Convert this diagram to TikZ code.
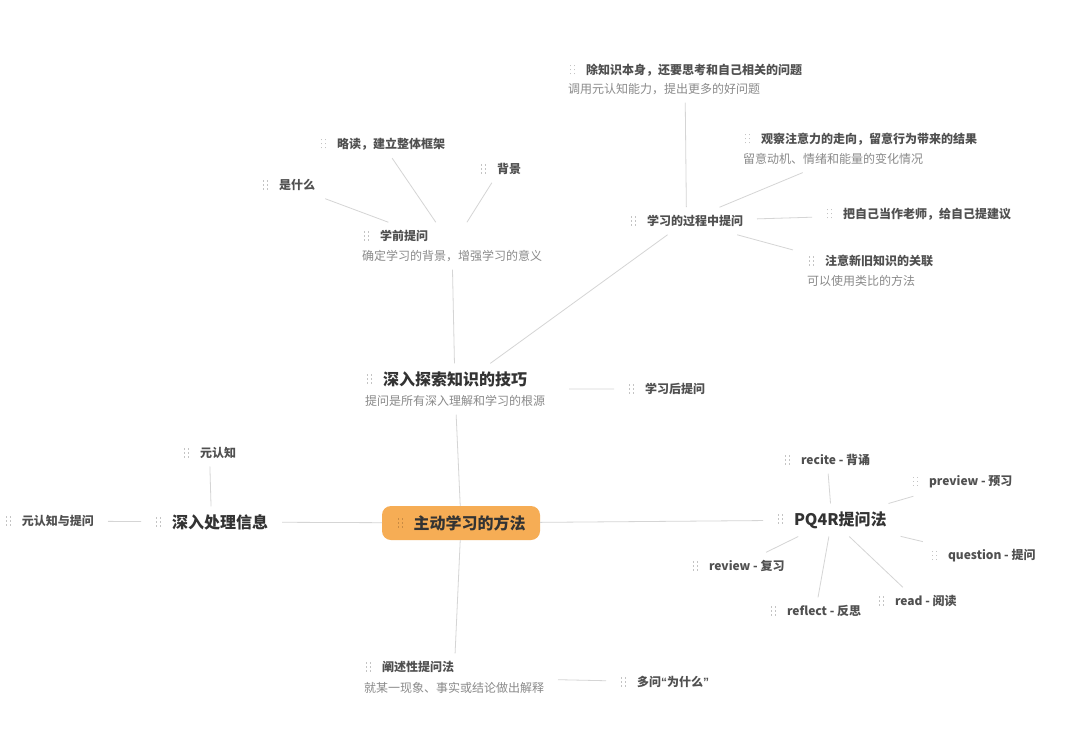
\documentclass[tikz,border=0pt]{standalone}
\usepackage{fontspec}
\setmainfont{Noto Sans CJK SC}
\newfontfamily\quotefont{Liberation Sans}
\usetikzlibrary{fit}
\definecolor{cone}{HTML}{333333}
\definecolor{ctwo}{HTML}{505050}
\definecolor{csub}{HTML}{8A8A8A}
\definecolor{clin}{HTML}{D5D5D5}
\definecolor{cgrip}{HTML}{C4C4C4}
\definecolor{cgripdark}{HTML}{C98B43}
\definecolor{corange}{HTML}{F6AD55}
\newcommand\gripcol{cgrip}
\newcommand\gdot{\rule{1.3pt}{1.3pt}}
\newcommand\grow{\hbox{\gdot\kern2.7pt\gdot}}
\newcommand\grip{\makebox[17pt][l]{\kern1pt{\color{\gripcol}\raisebox{\dimexpr0.38em-4.65pt\relax}{\vbox{\offinterlineskip\grow\kern2.7pt\grow\kern2.7pt\grow}}}}}
\newcommand\myopenq{{\quotefont “}}
\newcommand\mycloseq{{\quotefont ”}}
\tikzset{
  tone/.style={anchor=west, inner sep=0pt, outer sep=0pt, text=cone, font=\fontsize{16}{18}\selectfont\bfseries},
  ttwo/.style={anchor=west, inner sep=0pt, outer sep=0pt, text=ctwo, font=\fontsize{12}{14}\selectfont\bfseries},
  subt/.style={anchor=west, inner sep=0pt, outer sep=0pt, text=csub, font=\fontsize{12}{14}\selectfont},
  grp/.style={inner sep=0pt, outer xsep=14pt, outer ysep=8pt},
  rootbox/.style={fill=corange, rounded corners=9pt, minimum width=158pt, minimum height=34pt, inner sep=0pt, outer sep=0pt, text=cone, font=\fontsize{16}{18}\selectfont\bfseries},
  conn/.style={draw=clin, line width=0.8pt}
}
\begin{document}
\begin{tikzpicture}[x=1pt,y=-1pt]
\useasboundingbox[fill=white] (0,0) rectangle (1080,734);
% root
\node[rootbox] (root) at (461,523) {\renewcommand\gripcol{cgripdark}\grip 主动学习的方法};
% level 1
\node[tone] (n-ts) at (366,379) {\grip 深入探索知识的技巧};
\node[subt] (s-ts) at (365,401) {提问是所有深入理解和学习的根源};
\node[grp, fit=(n-ts)(s-ts)] (g-ts) {};
\node[tone] (n-cl) at (155,522) {\grip 深入处理信息};
\node[grp, fit=(n-cl)] (g-cl) {};
\node[tone] (n-pq) at (777,520) {\grip PQ4R提问法};
\node[grp, fit=(n-pq)] (g-pq) {};
\node[ttwo] (n-cs) at (365,667) {\grip 阐述性提问法};
\node[subt] (s-cs) at (364,688) {就某一现象、事实或结论做出解释};
\node[grp, fit=(n-cs)(s-cs)] (g-cs) {};
% under 深入探索
\node[ttwo] (n-xq) at (363,236) {\grip 学前提问};
\node[subt] (s-xq) at (362,256) {确定学习的背景，增强学习的意义};
\node[grp, fit=(n-xq)(s-xq)] (g-xq) {};
\node[ttwo] (n-sm) at (262,185) {\grip 是什么};
\node[grp, fit=(n-sm)] (g-sm) {};
\node[ttwo] (n-ld) at (320,144) {\grip 略读，建立整体框架};
\node[grp, fit=(n-ld)] (g-ld) {};
\node[ttwo] (n-bj) at (480,169) {\grip 背景};
\node[grp, fit=(n-bj)] (g-bj) {};
\node[ttwo] (n-gc) at (630,221) {\grip 学习的过程中提问};
\node[grp, fit=(n-gc)] (g-gc) {};
\node[ttwo] (n-cz) at (569,70) {\grip 除知识本身，还要思考和自己相关的问题};
\node[subt] (s-cz) at (568,89) {调用元认知能力，提出更多的好问题};
\node[grp, fit=(n-cz)(s-cz)] (g-cz) {};
\node[ttwo] (n-gx) at (744,139) {\grip 观察注意力的走向，留意行为带来的结果};
\node[subt] (s-gx) at (743,159) {留意动机、情绪和能量的变化情况};
\node[grp, fit=(n-gx)(s-gx)] (g-gx) {};
\node[ttwo] (n-bz) at (826,214) {\grip 把自己当作老师，给自己提建议};
\node[grp, fit=(n-bz)] (g-bz) {};
\node[ttwo] (n-zy) at (808,261) {\grip 注意新旧知识的关联};
\node[subt] (s-zy) at (807,281) {可以使用类比的方法};
\node[grp, fit=(n-zy)(s-zy)] (g-zy) {};
\node[ttwo] (n-xh) at (628,389) {\grip 学习后提问};
\node[grp, fit=(n-xh)] (g-xh) {};
% under 深入处理信息
\node[ttwo] (n-yr) at (183,453) {\grip 元认知};
\node[grp, fit=(n-yr)] (g-yr) {};
\node[ttwo] (n-yt) at (5,521) {\grip 元认知与提问};
\node[grp, fit=(n-yt)] (g-yt) {};
% PQ4R
\node[ttwo] (n-rc) at (784,460) {\grip recite - 背诵};
\node[grp, fit=(n-rc)] (g-rc) {};
\node[ttwo] (n-pv) at (912,482) {\grip preview - 预习};
\node[grp, fit=(n-pv)] (g-pv) {};
\node[ttwo] (n-qu) at (931,556) {\grip question - 提问};
\node[grp, fit=(n-qu)] (g-qu) {};
\node[ttwo] (n-rd) at (878,601) {\grip read - 阅读};
\node[grp, fit=(n-rd)] (g-rd) {};
\node[ttwo] (n-rf) at (770,611) {\grip reflect - 反思};
\node[grp, fit=(n-rf)] (g-rf) {};
\node[ttwo] (n-rv) at (692,566) {\grip review - 复习};
\node[grp, fit=(n-rv)] (g-rv) {};
% 阐述
\node[ttwo] (n-dw) at (620,682) {\grip 多问\myopenq 为什么\mycloseq};
\node[grp, fit=(n-dw)] (g-dw) {};
% connectors
\draw[conn] (root) -- (g-ts);
\draw[conn] (root) -- (g-cl);
\draw[conn] (root) -- (g-pq);
\draw[conn] (root) -- (g-cs);
\draw[conn] (g-ts) -- (g-xq);
\draw[conn] (g-ts) -- (g-gc);
\draw[conn] ([xshift=10pt]g-ts.east) -- (g-xh);
\draw[conn] (g-xq) -- (g-sm);
\draw[conn] (g-xq) -- (g-ld);
\draw[conn] (g-xq) -- (g-bj);
\draw[conn] (g-gc) -- (g-cz);
\draw[conn] (g-gc) -- (g-gx);
\draw[conn] (g-gc) -- (g-bz);
\draw[conn] (g-gc) -- (g-zy);
\draw[conn] (g-cl) -- (g-yr);
\draw[conn] (g-cl) -- (g-yt);
\draw[conn] (g-pq) -- (g-rc);
\draw[conn] (g-pq) -- (g-pv);
\draw[conn] (g-pq) -- (g-qu);
\draw[conn] (g-pq) -- (g-rd);
\draw[conn] (g-pq) -- (g-rf);
\draw[conn] (g-pq) -- (g-rv);
\draw[conn] (g-cs) -- (g-dw);
\end{tikzpicture}
\end{document}
